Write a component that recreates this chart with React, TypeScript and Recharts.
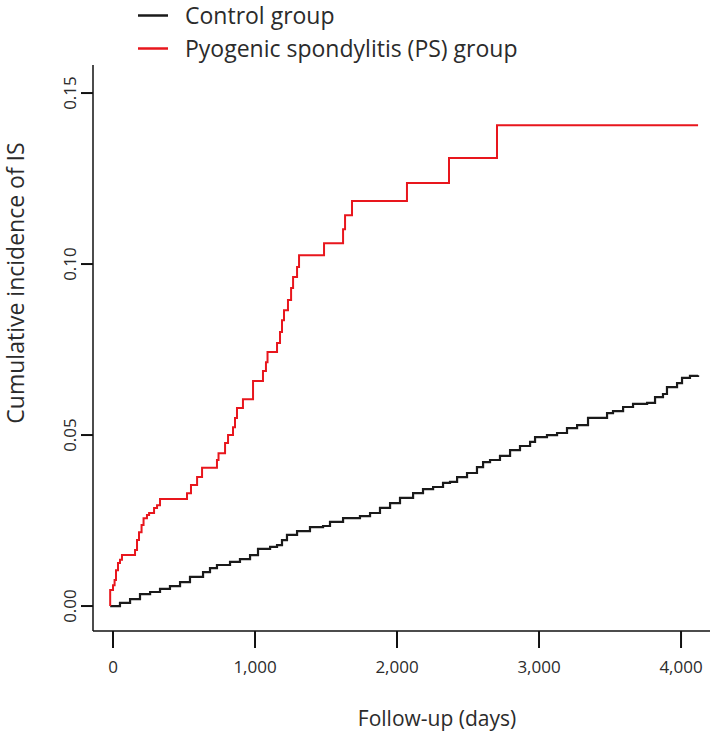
import { Line, LineChart, XAxis, YAxis } from "recharts";

// follow-up days / cumulative incidence
const psDays = [
	-20, -20, 0, 11, 21, 35, 49, 63, 155, 169, 183, 201, 215, 239, 254, 289, 310, 331, 521, 549, 592,
	627, 732, 743, 789, 810, 845, 859, 873, 915, 986, 1056, 1077, 1088, 1155, 1176, 1190, 1204, 1232,
	1254, 1268, 1296, 1310, 1486, 1620, 1634, 1683, 2070, 2366, 2704, 4120,
];
const psCif = [
	0, 0.0047, 0.0061, 0.0076, 0.0105, 0.0126, 0.0135, 0.0149, 0.0164, 0.0193, 0.0216, 0.0237, 0.0257,
	0.0266, 0.0272, 0.0287, 0.0295, 0.0313, 0.033, 0.0354, 0.0377, 0.0404, 0.0427, 0.0447, 0.0477, 0.05,
	0.0523, 0.055, 0.0579, 0.0605, 0.0658, 0.0687, 0.0713, 0.0743, 0.0769, 0.0801, 0.0836, 0.0865,
	0.0895, 0.093, 0.0962, 0.0991, 0.1026, 0.1061, 0.1102, 0.1143, 0.1184, 0.1237, 0.131, 0.1406,
	0.1406,
];

const controlDays = [
	-20, 49, 120, 190, 261, 331, 401, 472, 542, 634, 683, 732, 824, 894, 965, 1021, 1106, 1155, 1190,
	1225, 1296, 1387, 1479, 1528, 1620, 1739, 1810, 1880, 1951, 2021, 2113, 2183, 2254, 2324, 2373,
	2423, 2493, 2563, 2606, 2655, 2725, 2796, 2866, 2937, 2972, 3056, 3127, 3197, 3268, 3345, 3479,
	3521, 3592, 3662, 3761, 3817, 3873, 3901, 3972, 4007, 4063, 4120,
];
const controlCif = [
	0, 0.0009, 0.002, 0.0035, 0.0041, 0.005, 0.0058, 0.007, 0.0085, 0.0099, 0.0111, 0.012, 0.0129,
	0.0137, 0.0149, 0.0167, 0.0173, 0.0178, 0.0193, 0.0208, 0.0219, 0.0231, 0.0234, 0.0246, 0.0257,
	0.0263, 0.0272, 0.0287, 0.0301, 0.0316, 0.033, 0.0342, 0.0348, 0.036, 0.0363, 0.0377, 0.0389,
	0.0406, 0.0421, 0.0427, 0.0439, 0.0456, 0.0468, 0.048, 0.0494, 0.05, 0.0506, 0.052, 0.0529, 0.055,
	0.0564, 0.057, 0.0582, 0.0591, 0.0594, 0.0611, 0.062, 0.064, 0.0652, 0.0667, 0.0673, 0.0675,
];

const xTicks = [0, 1000, 2000, 3000, 4000];
const yTicks = [0, 0.05, 0.1, 0.15];

const CONTROL_COLOR = "#1a1a1a";
const PS_COLOR = "#e8161d";
const TEXT_COLOR = "#2b2b2b";
const FONT = "'Open Sans', 'Noto Sans', sans-serif";

const psData = psDays.map((t, i) => ({ t, v: psCif[i] }));
const controlData = controlDays.map((t, i) => ({ t, v: controlCif[i] }));

function YTick(props: any) {
	const { x, y, payload } = props;
	return (
		<text
			x={x}
			y={y}
			transform={`rotate(-90, ${x}, ${y})`}
			textAnchor="middle"
			fontSize={17}
			fill={TEXT_COLOR}
		>
			{Number(payload.value).toFixed(2)}
		</text>
	);
}

function LegendRow({ color, label }: { color: string; label: string }) {
	return (
		<div style={{ display: "flex", alignItems: "center", height: 33 }}>
			<svg width={47} height={33}>
				<line x1={0} x2={30} y1={16.5} y2={16.5} stroke={color} strokeWidth={2.5} />
			</svg>
			<span style={{ fontSize: 23, color: TEXT_COLOR, lineHeight: "33px" }}>{label}</span>
		</div>
	);
}

export default function App() {
	return (
		<div
			style={{
				position: "absolute",
				left: 0,
				top: 0,
				width: 715,
				height: 739,
				background: "#fff",
				fontFamily: FONT,
			}}
		>
			<LineChart
				width={715}
				height={739}
				margin={{ top: 65, right: 5, left: 0, bottom: 0 }}
				style={{ fontFamily: FONT }}
			>
				<XAxis
					type="number"
					dataKey="t"
					domain={[-141, 4204]}
					allowDataOverflow
					ticks={xTicks}
					tickFormatter={(v: number) => v.toLocaleString("en-US")}
					height={108}
					tickSize={17}
					tickMargin={13}
					tick={{ fontSize: 17, fill: TEXT_COLOR }}
					axisLine={{ stroke: "#111", strokeWidth: 1.5 }}
					tickLine={{ stroke: "#111", strokeWidth: 2 }}
					label={{
						content: () => (
							<text
								x={437}
								y={718}
								textAnchor="middle"
								dominantBaseline="central"
								fontSize={21}
								fill={TEXT_COLOR}
							>
								Follow-up (days)
							</text>
						),
					}}
				/>
				<YAxis
					type="number"
					dataKey="v"
					domain={[-0.0073, 0.1582]}
					allowDataOverflow
					ticks={yTicks}
					width={93}
					tickSize={12}
					tickMargin={5}
					tick={<YTick />}
					axisLine={{ stroke: "#111", strokeWidth: 1.5 }}
					tickLine={{ stroke: "#111", strokeWidth: 2 }}
					label={{
						content: () => (
							<text
								x={15}
								y={283}
								transform="rotate(-90, 15, 283)"
								textAnchor="middle"
								dominantBaseline="central"
								fontSize={23}
								fill={TEXT_COLOR}
							>
								Cumulative incidence of IS
							</text>
						),
					}}
				/>
				<Line
					data={controlData}
					dataKey="v"
					type="stepAfter"
					stroke={CONTROL_COLOR}
					strokeWidth={2.2}
					dot={false}
					isAnimationActive={false}
				/>
				<Line
					data={psData}
					dataKey="v"
					type="stepAfter"
					stroke={PS_COLOR}
					strokeWidth={2}
					dot={false}
					isAnimationActive={false}
				/>
			</LineChart>
			<div style={{ position: "absolute", left: 138, top: -1 }}>
				<LegendRow color={CONTROL_COLOR} label="Control group" />
				<LegendRow color={PS_COLOR} label="Pyogenic spondylitis (PS) group" />
			</div>
		</div>
	);
}
